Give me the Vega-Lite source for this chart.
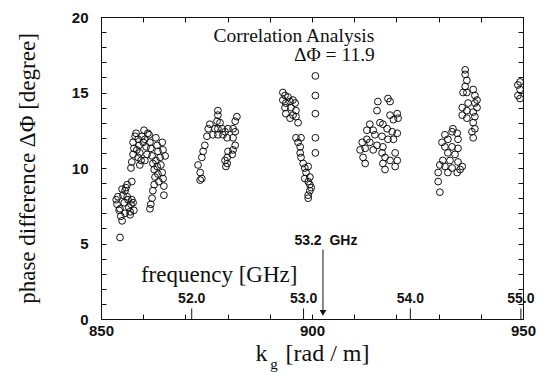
{
  "$schema": "https://vega.github.io/schema/vega-lite/v6.json",
  "width": 422,
  "height": 302,
  "autosize": {"type": "none"},
  "padding": {"left": 101, "top": 17, "right": 27, "bottom": 53},
  "background": "white",
  "config": {
    "view": {"stroke": "#111", "strokeWidth": 1},
    "axis": {
      "grid": false,
      "domainColor": "#111",
      "domainWidth": 1,
      "tickColor": "#111",
      "tickWidth": 1,
      "labelFont": "Liberation Sans",
      "labelFontWeight": "bold",
      "labelFontSize": 15,
      "labelColor": "#111",
      "titleFont": "Liberation Serif",
      "titleFontWeight": "normal",
      "titleFontSize": 23,
      "titleColor": "#111"
    }
  },
  "datasets": {
    "pts": [
      {"k":853.6,"phi":7.9},{"k":854.0,"phi":8.1},{"k":853.8,"phi":7.6},{"k":854.3,"phi":7.2},{"k":854.7,"phi":6.8},{"k":855.0,"phi":6.5},{"k":854.5,"phi":7.3},{"k":855.5,"phi":7.7},{"k":855.2,"phi":8.2},{"k":855.7,"phi":8.5},{"k":855.9,"phi":8.7},{"k":856.2,"phi":8.1},{"k":856.4,"phi":7.9},{"k":856.6,"phi":7.4},{"k":856.9,"phi":7.1},{"k":857.1,"phi":7.6},{"k":857.3,"phi":7.9},{"k":857.6,"phi":7.7},{"k":857.8,"phi":7.2},{"k":855.0,"phi":8.6},{"k":856.2,"phi":8.9},{"k":856.9,"phi":6.9},{"k":855.7,"phi":7.0},{"k":854.5,"phi":5.4},
      {"k":857.1,"phi":10.0},{"k":857.3,"phi":10.4},{"k":857.6,"phi":10.9},{"k":857.8,"phi":11.3},{"k":857.6,"phi":11.7},{"k":858.1,"phi":12.1},{"k":858.3,"phi":12.3},{"k":858.8,"phi":11.9},{"k":859.0,"phi":11.5},{"k":859.2,"phi":11.0},{"k":859.5,"phi":10.5},{"k":858.5,"phi":11.2},{"k":859.7,"phi":12.1},{"k":860.0,"phi":11.7},{"k":860.2,"phi":12.5},{"k":860.4,"phi":11.9},{"k":860.7,"phi":11.4},{"k":860.9,"phi":10.9},{"k":861.1,"phi":12.3},{"k":859.2,"phi":10.2},{"k":857.3,"phi":9.1},{"k":858.8,"phi":10.7},{"k":860.4,"phi":10.5},
      {"k":861.4,"phi":12.2},{"k":861.6,"phi":11.7},{"k":861.8,"phi":11.3},{"k":862.1,"phi":10.8},{"k":862.3,"phi":10.3},{"k":862.6,"phi":9.9},{"k":862.8,"phi":9.4},{"k":862.6,"phi":8.9},{"k":862.3,"phi":8.5},{"k":862.1,"phi":8.0},{"k":861.8,"phi":7.6},{"k":861.6,"phi":7.3},{"k":863.0,"phi":10.5},{"k":863.3,"phi":10.1},{"k":863.5,"phi":9.6},{"k":863.7,"phi":9.1},{"k":863.0,"phi":12.0},{"k":863.3,"phi":11.5},{"k":863.5,"phi":11.1},{"k":864.0,"phi":10.7},{"k":864.2,"phi":10.2},{"k":864.5,"phi":9.7},{"k":864.7,"phi":9.3},{"k":864.9,"phi":8.8},{"k":864.7,"phi":11.2},{"k":864.5,"phi":11.7},{"k":865.2,"phi":10.8},{"k":864.9,"phi":8.2},
      {"k":873.9,"phi":9.3},{"k":873.5,"phi":9.7},{"k":873.0,"phi":10.2},{"k":873.9,"phi":10.7},{"k":874.2,"phi":11.1},{"k":874.6,"phi":11.5},{"k":875.1,"phi":12.1},{"k":875.4,"phi":12.6},{"k":875.8,"phi":12.9},{"k":877.7,"phi":13.8},{"k":877.7,"phi":13.5},{"k":877.5,"phi":13.1},{"k":877.0,"phi":12.6},{"k":877.7,"phi":12.6},{"k":878.7,"phi":12.6},{"k":876.5,"phi":12.2},{"k":877.7,"phi":12.2},{"k":878.9,"phi":12.2},{"k":879.4,"phi":12.4},{"k":879.9,"phi":12.0},{"k":880.1,"phi":12.6},{"k":878.2,"phi":13.0},{"k":882.2,"phi":13.4},{"k":881.8,"phi":13.1},{"k":881.3,"phi":12.6},{"k":881.8,"phi":12.4},{"k":881.3,"phi":12.0},{"k":881.8,"phi":11.5},{"k":881.3,"phi":11.2},{"k":881.1,"phi":10.9},{"k":880.1,"phi":11.1},{"k":879.9,"phi":10.7},{"k":879.9,"phi":10.3},{"k":879.4,"phi":10.5},{"k":873.5,"phi":9.2},{"k":879.6,"phi":10.1},
      {"k":893.1,"phi":15.0},{"k":893.6,"phi":14.8},{"k":893.1,"phi":14.5},{"k":893.8,"phi":14.3},{"k":893.6,"phi":14.0},{"k":893.8,"phi":13.6},{"k":894.3,"phi":14.7},{"k":894.8,"phi":14.4},{"k":895.0,"phi":14.0},{"k":895.5,"phi":14.5},{"k":896.0,"phi":14.3},{"k":896.2,"phi":13.8},{"k":896.2,"phi":13.4},{"k":896.7,"phi":13.0},{"k":895.5,"phi":13.5},{"k":894.8,"phi":13.3},
      {"k":896.2,"phi":12.0},{"k":896.7,"phi":11.7},{"k":897.2,"phi":11.4},{"k":897.2,"phi":11.0},{"k":897.4,"phi":10.7},{"k":897.9,"phi":10.3},{"k":898.3,"phi":10.0},{"k":899.1,"phi":10.1},{"k":898.6,"phi":9.7},{"k":899.5,"phi":9.4},{"k":899.1,"phi":9.1},{"k":899.5,"phi":8.9},{"k":899.5,"phi":8.5},{"k":899.1,"phi":8.2},{"k":899.1,"phi":8.0},{"k":899.8,"phi":8.7},{"k":898.3,"phi":9.3},{"k":897.4,"phi":12.0},
      {"k":900.8,"phi":16.1},{"k":900.8,"phi":14.8},{"k":900.8,"phi":13.6},{"k":900.8,"phi":12.0},{"k":900.8,"phi":11.0},
      {"k":918.0,"phi":14.6},{"k":918.5,"phi":14.4},{"k":915.6,"phi":14.4},{"k":915.4,"phi":13.8},{"k":918.5,"phi":13.5},{"k":920.2,"phi":13.6},{"k":920.4,"phi":13.3},{"k":919.3,"phi":13.2},{"k":916.1,"phi":13.0},{"k":916.8,"phi":12.9},{"k":913.7,"phi":12.9},{"k":913.0,"phi":12.5},{"k":914.5,"phi":12.5},{"k":917.8,"phi":12.6},{"k":919.0,"phi":12.4},{"k":920.2,"phi":12.3},{"k":914.9,"phi":12.2},{"k":916.6,"phi":12.1},{"k":913.0,"phi":11.9},{"k":911.9,"phi":11.7},{"k":913.7,"phi":11.7},{"k":918.0,"phi":11.9},{"k":919.3,"phi":11.9},{"k":915.4,"phi":11.5},{"k":916.8,"phi":11.4},{"k":912.6,"phi":11.3},{"k":911.4,"phi":11.2},{"k":914.5,"phi":11.2},{"k":912.1,"phi":10.7},{"k":916.6,"phi":11.0},{"k":917.3,"phi":10.7},{"k":919.7,"phi":11.0},{"k":920.2,"phi":10.5},{"k":916.8,"phi":10.3},{"k":917.3,"phi":9.9},{"k":912.6,"phi":10.3},{"k":919.7,"phi":10.1},{"k":918.5,"phi":10.5},
      {"k":936.3,"phi":16.5},{"k":936.3,"phi":16.2},{"k":936.7,"phi":15.8},{"k":936.3,"phi":15.4},{"k":935.8,"phi":15.0},{"k":936.7,"phi":15.0},{"k":938.2,"phi":15.2},{"k":938.6,"phi":14.8},{"k":939.1,"phi":14.5},{"k":938.6,"phi":14.3},{"k":937.0,"phi":14.3},{"k":935.6,"phi":14.0},{"k":936.7,"phi":13.8},{"k":938.2,"phi":13.7},{"k":939.1,"phi":14.0},{"k":935.6,"phi":13.5},{"k":936.7,"phi":13.3},{"k":938.6,"phi":13.4},{"k":938.2,"phi":13.0},{"k":938.6,"phi":12.6},{"k":937.9,"phi":12.4},{"k":938.2,"phi":12.0},
      {"k":933.4,"phi":12.6},{"k":933.2,"phi":12.4},{"k":934.4,"phi":12.3},{"k":931.5,"phi":12.2},{"k":932.2,"phi":11.9},{"k":934.6,"phi":11.9},{"k":930.8,"phi":11.7},{"k":931.5,"phi":11.4},{"k":933.2,"phi":11.4},{"k":934.6,"phi":11.3},{"k":932.2,"phi":11.0},{"k":933.9,"phi":10.9},{"k":931.0,"phi":10.5},{"k":932.7,"phi":10.5},{"k":934.6,"phi":10.4},{"k":930.3,"phi":10.2},{"k":931.5,"phi":10.1},{"k":933.2,"phi":10.0},{"k":935.1,"phi":9.9},{"k":929.9,"phi":9.7},{"k":932.2,"phi":9.7},{"k":934.4,"phi":9.7},{"k":929.9,"phi":9.1},{"k":930.3,"phi":8.4},{"k":935.6,"phi":10.1},
      {"k":949.3,"phi":15.7},{"k":948.8,"phi":15.5},{"k":949.3,"phi":15.2},{"k":948.8,"phi":14.8},{"k":949.3,"phi":14.6}
    ],
    "freq": [
      {"k": 871.5, "label": "52.0"},
      {"k": 898.0, "label": "53.0"},
      {"k": 923.3, "label": "54.0"},
      {"k": 949.5, "label": "55.0"}
    ]
  },
  "resolve": {"axis": {"x": "independent", "y": "independent"}},
  "layer": [
    {
      "data": {"name": "pts"},
      "mark": {"type": "point", "shape": "circle", "filled": false, "stroke": "#111", "strokeWidth": 1, "size": 46, "opacity": 1},
      "encoding": {
        "x": {
          "field": "k", "type": "quantitative",
          "scale": {"domain": [850, 950], "nice": false, "zero": false},
          "axis": {
            "orient": "bottom",
            "values": [850, 860, 870, 880, 890, 900, 910, 920, 930, 940, 950],
            "labelExpr": "datum.value % 50 === 0 ? datum.label : ''",
            "tickSize": -5,
            "labelPadding": 9,
            "labelFlush": false,
            "title": "k\u00a0\u00a0\u00a0[rad / m]",
            "titleFontSize": 24,
            "titlePadding": 3
          }
        },
        "y": {
          "field": "phi", "type": "quantitative",
          "scale": {"domain": [0, 20], "nice": false, "zero": false},
          "axis": {
            "orient": "left",
            "values": [0,1,2,3,4,5,6,7,8,9,10,11,12,13,14,15,16,17,18,19,20],
            "labelExpr": "datum.value % 5 === 0 ? datum.label : ''",
            "tickSize": -5,
            "labelPadding": 18,
            "labelFlush": false,
            "title": "phase difference ΔΦ [degree]",
            "titlePadding": 32
          }
        }
      }
    },
    {
      "data": {"name": "freq"},
      "mark": {"type": "rule", "stroke": "#111", "strokeWidth": 1},
      "encoding": {
        "x": {
          "field": "k", "type": "quantitative",
          "axis": {
            "orient": "top",
            "values": [850, 860, 870, 880, 890, 900, 910, 920, 930, 940, 950],
            "labels": false,
            "tickSize": -5,
            "title": null
          }
        },
        "y": {
          "datum": 0, "type": "quantitative",
          "axis": {
            "orient": "right",
            "values": [0,1,2,3,4,5,6,7,8,9,10,11,12,13,14,15,16,17,18,19,20],
            "labels": false,
            "tickSize": -5,
            "title": null
          }
        },
        "y2": {"datum": 0.7}
      }
    },
    {
      "data": {"name": "freq"},
      "mark": {"type": "text", "font": "Liberation Sans", "fontWeight": "bold", "fontSize": 14, "fill": "#111", "baseline": "middle", "align": "center"},
      "encoding": {
        "x": {"field": "k", "type": "quantitative", "axis": null},
        "y": {"datum": 1.3, "type": "quantitative", "axis": null},
        "text": {"field": "label"}
      }
    },
    {
      "data": {"values": [{}]},
      "mark": {"type": "rule", "stroke": "#111", "strokeWidth": 1},
      "encoding": {
        "x": {"datum": 902.6, "type": "quantitative", "axis": null},
        "y": {"datum": 4.6, "type": "quantitative", "axis": null},
        "y2": {"datum": 0.6}
      }
    },
    {
      "data": {"values": [{}]},
      "mark": {"type": "point", "shape": "triangle-down", "filled": true, "fill": "#111", "stroke": null, "size": 45, "opacity": 1},
      "encoding": {
        "x": {"datum": 902.6, "type": "quantitative", "axis": null},
        "y": {"datum": 0.4, "type": "quantitative", "axis": null}
      }
    },
    {
      "data": {"values": [{}]},
      "mark": {"type": "text", "text": "53.2\u00a0\u00a0GHz", "font": "Liberation Sans", "fontWeight": "bold", "fontSize": 14, "fill": "#111", "baseline": "middle", "align": "center"},
      "encoding": {
        "x": {"datum": 903.3, "type": "quantitative", "axis": null},
        "y": {"datum": 5.17, "type": "quantitative", "axis": null}
      }
    },
    {
      "data": {"values": [{}]},
      "mark": {"type": "text", "text": "frequency [GHz]", "font": "Liberation Serif", "fontSize": 23, "fill": "#111", "baseline": "middle", "align": "center"},
      "encoding": {
        "x": {"datum": 878, "type": "quantitative", "axis": null},
        "y": {"datum": 2.9, "type": "quantitative", "axis": null}
      }
    },
    {
      "data": {"values": [{}]},
      "mark": {"type": "text", "text": "Correlation Analysis", "font": "Liberation Serif", "fontSize": 19.5, "fill": "#111", "baseline": "middle", "align": "center"},
      "encoding": {
        "x": {"datum": 895.7, "type": "quantitative", "axis": null},
        "y": {"datum": 18.74, "type": "quantitative", "axis": null}
      }
    },
    {
      "data": {"values": [{}]},
      "mark": {"type": "text", "text": "ΔΦ = 11.9", "font": "Liberation Serif", "fontSize": 19.5, "fill": "#111", "baseline": "middle", "align": "right"},
      "encoding": {
        "x": {"datum": 914.9, "type": "quantitative", "axis": null},
        "y": {"datum": 17.48, "type": "quantitative", "axis": null}
      }
    },
    {
      "data": {"values": [{}]},
      "mark": {"type": "text", "text": "g", "font": "Liberation Serif", "fontSize": 15, "fill": "#111", "baseline": "middle", "align": "center"},
      "encoding": {
        "x": {"datum": 891.0, "type": "quantitative", "axis": null},
        "y": {"datum": -3.0, "type": "quantitative", "axis": null}
      }
    }
  ]
}
